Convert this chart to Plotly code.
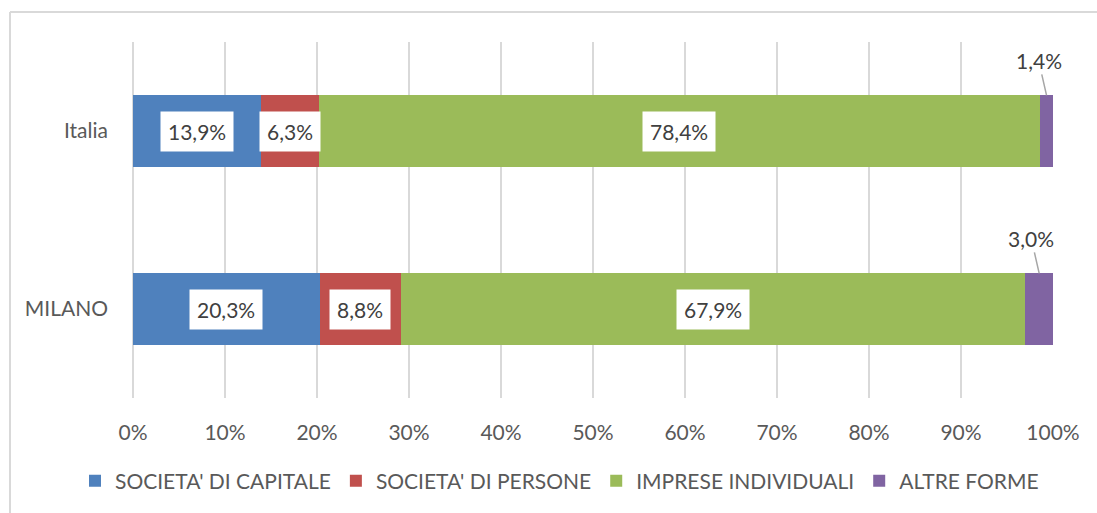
import plotly.graph_objects as go

categories = ["MILANO", "Italia"]
series_names = ["SOCIETA' DI CAPITALE", "SOCIETA' DI PERSONE", "IMPRESE INDIVIDUALI", "ALTRE FORME"]
milano = [20.3, 8.8, 67.9, 3.0]
italia = [13.9, 6.3, 78.4, 1.4]
colors = ["#4F81BD", "#C0504D", "#9BBB59", "#8064A2"]
tick_vals = [0, 10, 20, 30, 40, 50, 60, 70, 80, 90, 100]
tick_text = ["0%", "10%", "20%", "30%", "40%", "50%", "60%", "70%", "80%", "90%", "100%"]

FONT = "Lato, Carlito, Calibri, sans-serif"
TXT = "#595959"

W, H = 1097, 513
PL, PR, PT, PB = 133, 1053, 42, 398  # plot area in page pixels
PW, PH = PR - PL, PB - PT

def fmt(v):
    return f"{v:.1f}".replace(".", ",") + "%"

fig = go.Figure()
for i, name in enumerate(series_names):
    fig.add_trace(go.Bar(
        y=categories, x=[milano[i], italia[i]], name=name, orientation="h",
        marker=dict(color=colors[i], line=dict(width=0)),
        hoverinfo="skip",
    ))

annotations = []
for ci, vals in enumerate([milano, italia]):
    cum = 0
    for i, v in enumerate(vals):
        mid = cum + v / 2
        if i < 3:
            annotations.append(dict(
                x=mid, y=ci, xref="x", yref="y", text=fmt(v), showarrow=False,
                bgcolor="white", borderpad=7,
                font=dict(family=FONT, size=21, color="#404040"),
            ))
        else:
            annotations.append(dict(
                x=mid, y=ci + 0.2, xref="x", yref="y", text=fmt(v), showarrow=True,
                arrowhead=0, arrowwidth=1.5, arrowcolor="#A6A6A6",
                ax=-8, ay=-35, standoff=0,
                font=dict(family=FONT, size=21, color="#404040"),
            ))
        cum += v

def px_x(p):
    return (p - PL) / PW

def px_y(p):
    return (PB - p) / PH

fig.update_layout(
    barmode="stack",
    bargap=0.6,
    width=W, height=H,
    margin=dict(l=PL, r=W - PR, t=PT, b=H - PB),
    paper_bgcolor="white", plot_bgcolor="white",
    font=dict(family=FONT, color=TXT, size=21),
    showlegend=True,
    legend=dict(orientation="h", x=px_x(75), xanchor="left",
                y=px_y(481), yanchor="middle",
                font=dict(family=FONT, size=21, color=TXT), traceorder="normal",
                itemwidth=30, tracegroupgap=0),
    xaxis=dict(range=[0, 100], tickvals=tick_vals, ticktext=tick_text,
               showgrid=True, gridcolor="#D9D9D9", gridwidth=2,
               zeroline=True, zerolinecolor="#D9D9D9", zerolinewidth=2,
               showline=False, ticks="", ticklabelstandoff=20,
               tickfont=dict(family=FONT, size=21, color=TXT)),
    yaxis=dict(categoryorder="array", categoryarray=categories,
               showgrid=False, showline=False, ticks="", ticklabelstandoff=24,
               tickfont=dict(family=FONT, size=21, color=TXT)),
    annotations=annotations,
    shapes=[
        dict(type="line", xref="paper", yref="paper",
             x0=px_x(10), x1=px_x(1200), y0=px_y(12), y1=px_y(12),
             line=dict(color="#D9D9D9", width=2), layer="below"),
        dict(type="line", xref="paper", yref="paper",
             x0=px_x(10), x1=px_x(10), y0=px_y(12), y1=px_y(600),
             line=dict(color="#D9D9D9", width=2), layer="below"),
    ],
)

fig.write_html(
    "out.html",
    config={"displayModeBar": False},
    post_script="document.body.style.margin='0';document.body.style.overflow='hidden';",
)
